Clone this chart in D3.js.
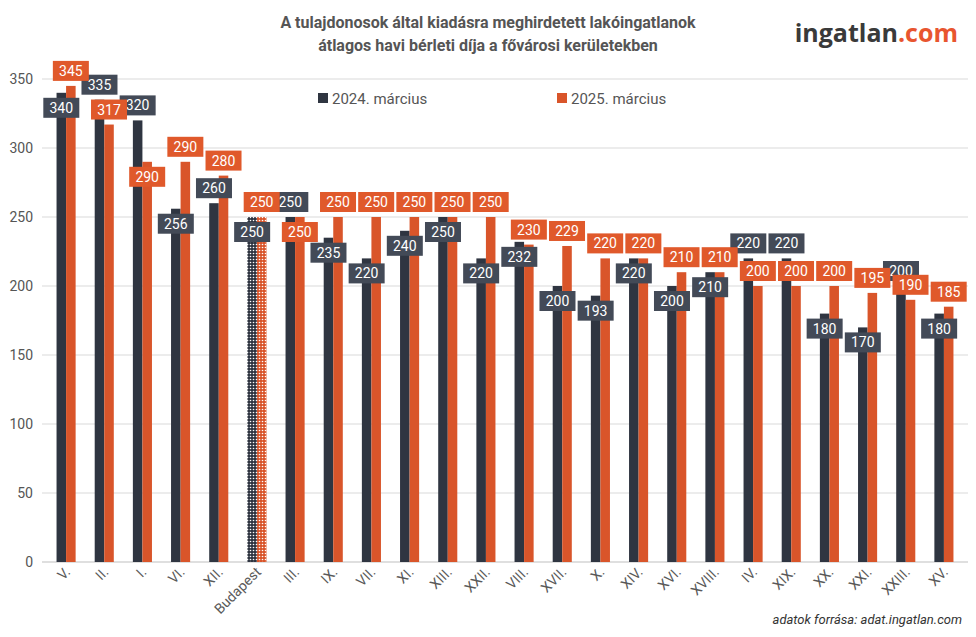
<!DOCTYPE html><html><head><meta charset="utf-8">
<script src="https://cdn.jsdelivr.net/npm/d3@7"></script>
<style>body{margin:0;background:#fff;font-family:Roboto,sans-serif}</style></head><body>
<svg id="c" width="976" height="637"></svg>
<script>
const categories=["V.","II.","I.","VI.","XII.","Budapest","III.","IX.","VII.","XI.","XIII.","XXII.","VIII.","XVII.","X.","XIV.","XVI.","XVIII.","IV.","XIX.","XX.","XXI.","XXIII.","XV."];
const v2024=[340,335,320,256,260,250,250,235,220,240,250,220,232,200,193,220,200,210,220,220,180,170,200,180];
const v2025=[345,317,290,290,280,250,250,250,250,250,250,250,230,229,220,220,210,210,200,200,200,195,190,185];
const pos2024=["b","a","a","b","a","b","a","b","b","b","b","b","b","b","b","b","b","b","a","a","b","b","a","b"];
const pos2025=["a","a","b","a","a","a","b","a","a","a","a","a","a","a","a","a","a","a","a","a","a","a","a","a"];
const yTicks=[0,50,100,150,200,250,300,350];
const svg=d3.select("#c");
const C1="#2f3541",C2="#d9552a",L1="#434a57",L2="#e0592b";
const defs=svg.append("defs");
[["p1",C1],["p2",C2]].forEach(([id,c])=>{const p=defs.append("pattern").attr("id",id).attr("width",3).attr("height",3).attr("patternUnits","userSpaceOnUse");
p.append("rect").attr("width",3).attr("height",3).attr("fill",c);p.append("circle").attr("cx",1.5).attr("cy",1.5).attr("r",0.8).attr("fill","#fff");});
const y=d3.scaleLinear().domain([0,350]).range([562,79]);
const x=d3.scaleBand().domain(categories).range([47,963]).paddingInner(0.5).paddingOuter(0.25);
const bw=x.bandwidth()/2;
svg.append("g").selectAll("line").data(yTicks).join("line").attr("x1",42).attr("x2",968).attr("y1",d=>y(d)).attr("y2",d=>y(d)).attr("stroke",d=>d?"#d9d9d9":"#bfbfbf");
svg.append("g").selectAll("text").data(yTicks).join("text").attr("x",33).attr("y",d=>y(d)+5).attr("text-anchor","end").attr("font-size",14).attr("fill","#555").text(d=>d);
const g=svg.append("g");
categories.forEach((c,i)=>{
 const bp=c==="Budapest";
 g.append("rect").attr("x",x(c)).attr("width",bw).attr("y",y(v2024[i])).attr("height",562-y(v2024[i])).attr("fill",bp?"url(#p1)":C1);
 g.append("rect").attr("x",x(c)+bw).attr("width",bw).attr("y",y(v2025[i])).attr("height",562-y(v2025[i])).attr("fill",bp?"url(#p2)":C2);
});
function lab(v,p,cx,col){const cy=y(v)+(p==="a"?-15:15);
 g.append("rect").attr("x",cx-18).attr("y",cy-10).attr("width",36).attr("height",20).attr("fill",col);
 g.append("text").attr("x",cx).attr("y",cy+5).attr("text-anchor","middle").attr("font-size",14).attr("fill","#fff").text(v);}
categories.forEach((c,i)=>{lab(v2024[i],pos2024[i],x(c)+bw/2,L1);});
categories.forEach((c,i)=>{lab(v2025[i],pos2025[i],x(c)+bw*1.5,L2);});
svg.append("g").selectAll("text").data(categories).join("text").attr("transform",d=>`translate(${x(d)+bw+5},573) rotate(-45)`).attr("text-anchor","end").attr("font-size",14).attr("fill","#595959").text(d=>d);
[["2024. március",C1,318],["2025. március",C2,557]].forEach(([t,c,lx])=>{svg.append("rect").attr("x",lx).attr("y",93).attr("width",10).attr("height",10).attr("fill",c);
 svg.append("text").attr("x",lx+14).attr("y",104).attr("font-size",15).attr("fill","#555").text(t);});
svg.append("text").attr("x",488).attr("y",28).attr("text-anchor","middle").attr("font-size",16).attr("font-weight","bold").attr("fill","#555").text("A tulajdonosok által kiadásra meghirdetett lakóingatlanok");
svg.append("text").attr("x",488).attr("y",51).attr("text-anchor","middle").attr("font-size",16).attr("font-weight","bold").attr("fill","#555").text("átlagos havi bérleti díja a fővárosi kerületekben");
const lg=svg.append("text").attr("x",958).attr("y",42).attr("text-anchor","end").attr("font-size",25).attr("font-weight","bold").attr("font-family","'Open Sans',sans-serif");
lg.append("tspan").attr("fill","#3a3a3a").text("ingatlan");
lg.append("tspan").attr("fill","#e8552f").text(".com");
svg.append("text").attr("x",962).attr("y",624).attr("text-anchor","end").attr("font-size",13).attr("font-style","italic").attr("fill","#333").text("adatok forrása: adat.ingatlan.com");
</script></body></html>
